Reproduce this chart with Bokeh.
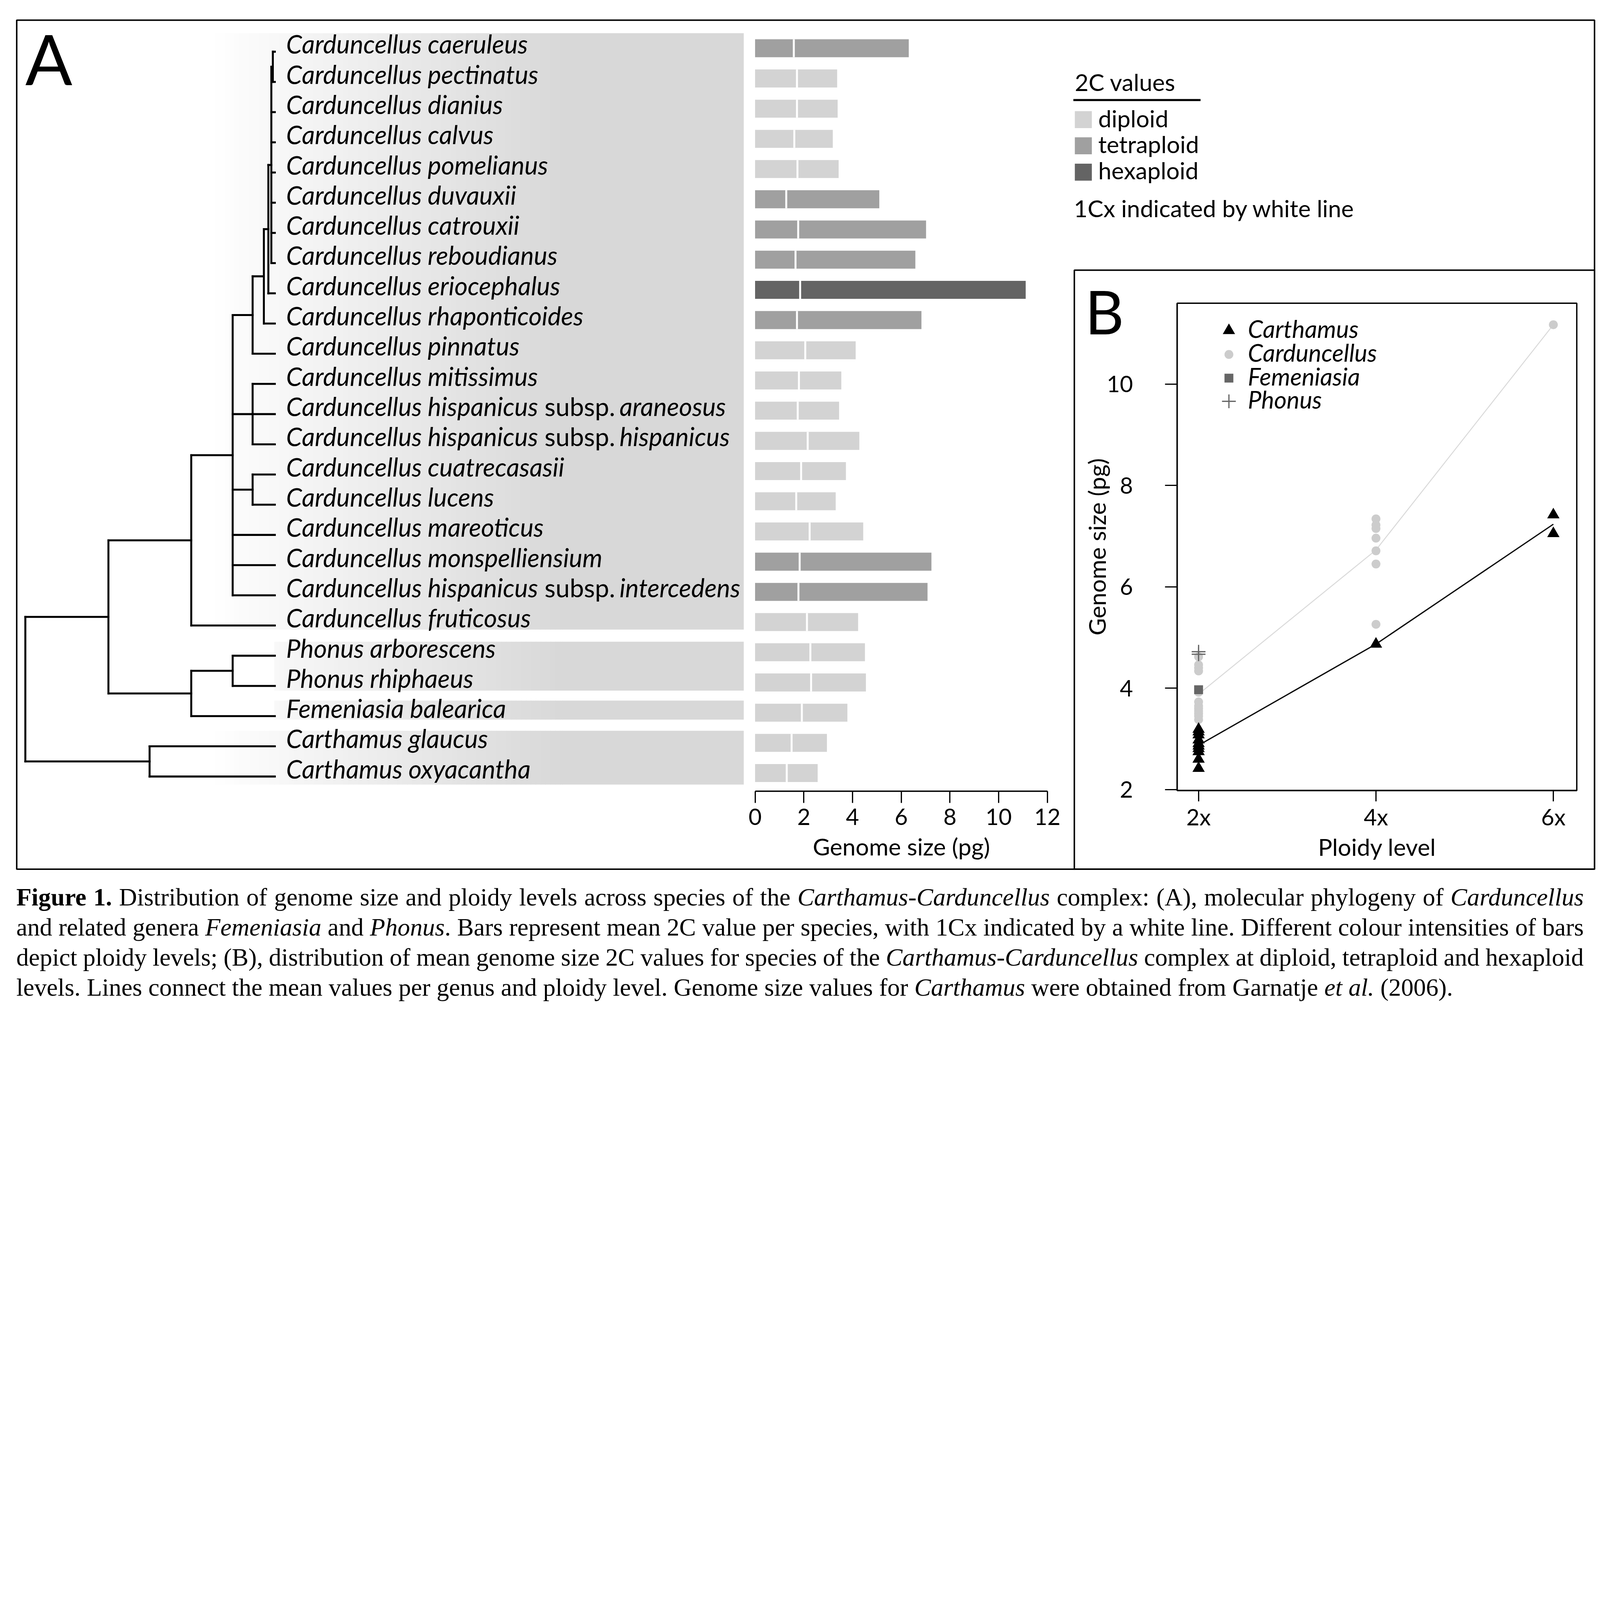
from bokeh.plotting import figure
from bokeh.models import Range1d, LinearAxis, FixedTicker, Div
from bokeh.layouts import column
from bokeh.core.properties import value
from bokeh.embed import file_html
from bokeh.resources import INLINE

# ---------------------------------------------------------------- data (panel A)
label_main = [
    "Carduncellus caeruleus", "Carduncellus pectinatus", "Carduncellus dianius",
    "Carduncellus calvus", "Carduncellus pomelianus", "Carduncellus duvauxii",
    "Carduncellus catrouxii", "Carduncellus reboudianus", "Carduncellus eriocephalus",
    "Carduncellus rhaponticoides", "Carduncellus pinnatus", "Carduncellus mitissimus",
    "Carduncellus hispanicus", "Carduncellus hispanicus", "Carduncellus cuatrecasasii",
    "Carduncellus lucens", "Carduncellus mareoticus", "Carduncellus monspelliensium",
    "Carduncellus hispanicus", "Carduncellus fruticosus", "Phonus arborescens",
    "Phonus rhiphaeus", "Femeniasia balearica", "Carthamus glaucus", "Carthamus oxyacantha",
]
label_subsp = ["", "", "", "", "", "", "", "", "", "", "", "",
               "araneosus", "hispanicus", "", "", "", "", "intercedens",
               "", "", "", "", "", ""]
ploidy_level = ["tetraploid", "diploid", "diploid", "diploid", "diploid", "tetraploid",
                "tetraploid", "tetraploid", "hexaploid", "tetraploid", "diploid", "diploid",
                "diploid", "diploid", "diploid", "diploid", "diploid", "tetraploid",
                "tetraploid", "diploid", "diploid", "diploid", "diploid", "diploid", "diploid"]
genome_2c = [6.31, 3.37, 3.39, 3.19, 3.43, 5.10, 7.02, 6.58, 11.11, 6.83, 4.13, 3.54,
             3.45, 4.28, 3.73, 3.31, 4.44, 7.24, 7.08, 4.23, 4.51, 4.55, 3.79, 2.95, 2.57]
genome_1cx = [1.59, 1.72, 1.72, 1.61, 1.74, 1.28, 1.77, 1.66, 1.85, 1.72, 2.06, 1.80,
              1.75, 2.16, 1.89, 1.69, 2.24, 1.83, 1.78, 2.13, 2.27, 2.30, 1.92, 1.50, 1.30]
bar_ticks = [0, 2, 4, 6, 8, 10, 12]

# phylogeny: (node depth, children); leaves are row indices; depth 0 = root, 1 = tips
tree = (0.0, [
    (0.333, [
        (0.665, [
            (0.831, [
                (0.911, [
                    (0.956, [
                        (0.974, [
                            (0.986, [(0.992, [0, 1]), 2, 3, 4, 5, 6, 7]),
                            8]),
                        9]),
                    10]),
                (0.911, [11, 12, 13]),
                (0.911, [14, 15]),
                16, 17, 18]),
            19]),
        (0.665, [(0.831, [20, 21]), 22]),
    ]),
    (0.498, [23, 24]),
])

# ---------------------------------------------------------------- data (panel B)
carthamus_ploidy = [2, 2, 2, 2, 2, 2, 2, 2, 2, 2, 4, 6, 6]
carthamus_gs = [3.19, 3.14, 3.08, 2.98, 2.91, 2.86, 2.81, 2.75, 2.60, 2.42, 4.87, 7.42, 7.05]
carduncellus_ploidy = [2, 2, 2, 2, 2, 2, 2, 2, 2, 2, 2, 2, 4, 4, 4, 4, 4, 4, 4, 6]
carduncellus_gs = [4.62, 4.46, 4.40, 4.34, 3.92, 3.73, 3.65, 3.60, 3.55, 3.50, 3.45, 3.38,
                   7.34, 7.22, 7.15, 6.96, 6.71, 6.45, 5.26, 11.17]
femeniasia_ploidy = [2]
femeniasia_gs = [3.97]
phonus_ploidy = [2, 2]
phonus_gs = [4.72, 4.67]
ploidy_ticks = [2, 4, 6]
ploidy_labels = {2: "2x", 4: "4x", 6: "6x"}
gs_ticks = [2, 4, 6, 8, 10]

# ---------------------------------------------------------------- layout
# coordinates below are given in reference-image pixels; the page is rendered
# in a 4096 css-px wide viewport, so screen sizes are scaled by S
S = 4096 / 6490
W_CSS, H_CSS = 4090, 2258
XL, XR = 0, W_CSS / S
YT, YB = 0, H_CSS / S


def z(v):
    return v * S


def fs(v):
    return "%.2fpx" % (v * S)


SANS = "Lato"
COL = {"diploid": "#d3d3d3", "tetraploid": "#a0a0a0", "hexaploid": "#646464"}
MID = 0.387  # baseline offset (em) when text is anchored at 'middle'


def mapped_range(p0, v0, p1, v1, lo, hi):
    k = (v1 - v0) / (p1 - p0)
    return Range1d(start=v0 + (lo - p0) * k, end=v0 + (hi - p0) * k)


p = figure(width=W_CSS, height=H_CSS, x_range=Range1d(XL, XR), y_range=Range1d(YB, YT),
           output_backend="svg", toolbar_location=None,
           x_axis_location=None, y_axis_location=None, min_border=0)
p.outline_line_color = None
p.background_fill_color = "white"
p.border_fill_color = "white"
p.grid.grid_line_color = None
p.grid.visible = False

ROW0, ROWSTEP = 195.0, 122.5
p.extra_y_ranges = {
    "row": mapped_range(ROW0, 0, ROW0 + ROWSTEP, 1, YB, YT),
    "gsize": mapped_range(3202, 2, 1557, 10, YB, YT),
}
p.extra_x_ranges = {
    "gx": mapped_range(3062, 0, 3062 + 98.8 * 12, 12, XL, XR),
    "depth": mapped_range(102, 0, 1114, 1, XL, XR),
    "ploidy": mapped_range(4861, 2, 6300, 6, XL, XR),
}

rows = list(range(len(label_main)))

# ---- label background boxes with horizontal white->grey gradient
GX0, GX1, GEND, BOX_R = 850, 2280, 216, 3016
boxes = [(850, -0.5, 19.25), (1112, 19.65, 21.27), (1112, 21.6, 22.23), (571, 22.6, 24.38)]
ql, qr, qt, qb, qc = [], [], [], [], []
for xl, rt, rb in boxes:
    x = xl
    step = 20
    while x < GX1:
        xm = min(x + step, GX1)
        c = (x + xm) / 2
        g = 255 if c <= GX0 else 255 + (GEND - 255) * (c - GX0) / (GX1 - GX0)
        g = int(round(g))
        ql.append(x); qr.append(xm + 2); qt.append(rt); qb.append(rb)
        qc.append("#%02x%02x%02x" % (g, g, g))
        x = xm
    ql.append(GX1); qr.append(BOX_R); qt.append(rt); qb.append(rb)
    qc.append("#%02x%02x%02x" % (GEND, GEND, GEND))
p.quad(left=ql, right=qr, top=qt, bottom=qb, fill_color=qc, line_color=None,
       y_range_name="row")

# ---- phylogeny
TIP_DY = 0.114
hx0, hx1, hy = [], [], []
vx, vy0, vy1 = [], [], []


def layout_node(node):
    if isinstance(node, int):
        return 1.0, node + TIP_DY
    d, kids = node
    pos = [layout_node(k) for k in kids]
    for kd, ky in pos:
        hx0.append(d); hx1.append(kd); hy.append(ky)
    vx.append(d); vy0.append(pos[0][1]); vy1.append(pos[-1][1])
    return d, (pos[0][1] + pos[-1][1]) / 2


layout_node(tree)
p.segment(x0=hx0, x1=hx1, y0=hy, y1=hy, line_width=z(8), line_color="black",
          line_cap="square", x_range_name="depth", y_range_name="row")
p.segment(x0=vx, x1=vx, y0=vy0, y1=vy1, line_width=z(8), line_color="black",
          line_cap="square", x_range_name="depth", y_range_name="row")

# ---- species labels
LBL_FS = 103
LBL_DY = (22 - MID * LBL_FS) / ROWSTEP
p.text(x=[1160] * len(rows), y=[r + LBL_DY for r in rows], text=label_main,
       text_font=value(SANS), text_font_style="italic", text_font_size=fs(LBL_FS),
       text_baseline="middle", text_align="left", y_range_name="row")
sub_rows = [r for r in rows if label_subsp[r]]
p.text(x=[2208] * len(sub_rows), y=[r + LBL_DY for r in sub_rows],
       text=["subsp."] * len(sub_rows), text_font=value(SANS), text_font_size=fs(LBL_FS),
       text_baseline="middle", text_align="left", y_range_name="row")
p.text(x=[2512] * len(sub_rows), y=[r + LBL_DY for r in sub_rows],
       text=[label_subsp[r] for r in sub_rows], text_font=value(SANS),
       text_font_style="italic", text_font_size=fs(LBL_FS),
       text_baseline="middle", text_align="left", y_range_name="row")

# ---- bars
BAR_H = 0.596
p.hbar(y=rows, left=0, right=genome_2c, height=BAR_H,
       fill_color=[COL[k] for k in ploidy_level], line_color=None,
       x_range_name="gx", y_range_name="row")
p.segment(x0=genome_1cx, x1=genome_1cx, y0=[r - BAR_H / 2 for r in rows],
          y1=[r + BAR_H / 2 for r in rows], line_color="white", line_width=z(8),
          x_range_name="gx", y_range_name="row")

ax = LinearAxis(x_range_name="gx", fixed_location=3209, ticker=FixedTicker(ticks=bar_ticks),
                bounds=(0, 12), axis_label="Genome size (pg)")
p.add_layout(ax, "below")

# ---- legend of panel A
p.line(x=[4353, 4869], y=[405, 405], line_width=z(8), line_color="black")
leg_names = ["diploid", "tetraploid", "hexaploid"]
leg_top = [450, 556, 663]
p.quad(left=[4359] * 3, right=[4428] * 3, top=leg_top, bottom=[t + 69 for t in leg_top],
       fill_color=[COL[k] for k in leg_names], line_color=None)
LEG_FS = 96
p.text(x=[4359, 4454, 4454, 4454, 4355],
       y=[b - MID * LEG_FS for b in [368, 516, 621, 726, 880]],
       text=["2C values"] + leg_names + ["1Cx indicated by white line"],
       text_font=value(SANS), text_font_size=fs(LEG_FS), text_baseline="middle")

# ---- panel letters
p.text(x=[102], y=[345 - MID * 282], text=["A"], text_font=value(SANS),
       text_font_size=fs(282), text_baseline="middle")
p.text(x=[4400], y=[1355 - MID * 245], text=["B"], text_font=value(SANS),
       text_font_size=fs(245), text_baseline="middle")

# ---- frames
p.quad(left=[67, 4357], right=[6467, 6467], top=[81, 1095], bottom=[3525, 3525],
       fill_color=None, line_color="black", line_width=z(6))
p.quad(left=[4774], right=[6395], top=[1229], bottom=[3206], fill_color=None,
       line_color="black", line_width=z(5.5))


# ---- panel B
def mean_by(xs, ys):
    out = {}
    for x, y in zip(xs, ys):
        out.setdefault(x, []).append(y)
    ks = sorted(out)
    return ks, [sum(out[k]) / len(out[k]) for k in ks]


cx, cy = mean_by(carduncellus_ploidy, carduncellus_gs)
tx, ty = mean_by(carthamus_ploidy, carthamus_gs)
p.line(cx, cy, line_color="#dadada", line_width=z(4), x_range_name="ploidy", y_range_name="gsize")
p.line(tx, ty, line_color="black", line_width=z(5), x_range_name="ploidy", y_range_name="gsize")
p.scatter(carduncellus_ploidy, carduncellus_gs, marker="circle", size=z(36), fill_color="#cccccc",
          line_color=None, x_range_name="ploidy", y_range_name="gsize")
p.scatter(femeniasia_ploidy, femeniasia_gs, marker="square", size=z(36), fill_color="#666666",
          line_color=None, x_range_name="ploidy", y_range_name="gsize")
p.scatter(phonus_ploidy, phonus_gs, marker="cross", size=z(56), line_color="#666666",
          line_width=z(5), x_range_name="ploidy", y_range_name="gsize")
p.scatter(carthamus_ploidy, carthamus_gs, marker="triangle", size=z(50), fill_color="black",
          line_color=None, x_range_name="ploidy", y_range_name="gsize")

# legend of panel B
lg_y = [1340, 1437, 1533, 1627]
p.scatter([4984], [lg_y[0]], marker="triangle", size=z(50), fill_color="black", line_color=None)
p.scatter([4984], [lg_y[1]], marker="circle", size=z(36), fill_color="#cccccc", line_color=None)
p.scatter([4984], [lg_y[2]], marker="square", size=z(36), fill_color="#666666", line_color=None)
p.scatter([4984], [lg_y[3]], marker="cross", size=z(56), line_color="#666666", line_width=z(5))
p.text(x=[5061] * 4, y=[v - 8 for v in lg_y],
       text=["Carthamus", "Carduncellus", "Femeniasia", "Phonus"],
       text_font=value(SANS), text_font_style="italic", text_font_size=fs(98),
       text_baseline="middle")

bx = LinearAxis(x_range_name="ploidy", fixed_location=3206, ticker=FixedTicker(ticks=ploidy_ticks),
                major_label_overrides=ploidy_labels, bounds=(1.761, 6.264),
                axis_label="Ploidy level")
p.add_layout(bx, "below")
by = LinearAxis(y_range_name="gsize", fixed_location=4774, ticker=FixedTicker(ticks=gs_ticks),
                bounds=(1.98, 11.596), axis_label="Genome size (pg)")
p.add_layout(by, "left")

for a in (ax, bx, by):
    a.axis_line_color = "black"
    a.axis_line_width = z(5.5)
    a.major_tick_line_width = z(5)
    a.major_tick_in = 0
    a.minor_tick_out = 0
    a.minor_tick_in = 0
    a.major_label_text_font = SANS
    a.major_label_text_font_size = fs(92)
    a.major_label_text_color = "black"
    a.axis_label_text_font = SANS
    a.axis_label_text_font_size = fs(96)
    a.axis_label_text_font_style = "normal"
    a.axis_label_text_color = "black"
ax.major_tick_out = round(z(48))
ax.major_label_standoff = round(z(22))
ax.axis_label_standoff = round(z(24))
bx.major_tick_out = round(z(44))
bx.major_label_standoff = round(z(6))
bx.axis_label_standoff = round(z(4))
by.major_tick_out = round(z(49))
by.major_label_standoff = round(z(130))
by.axis_label_standoff = round(z(-22))

# ---------------------------------------------------------------- caption
cap_lines = [
    "<b>Figure</b> <b>1.</b> Distribution of genome size and ploidy levels across species of the "
    "<i>Carthamus</i>-<i>Carduncellus</i> complex: (A), molecular phylogeny of <i>Carduncellus</i>",
    "and related genera <i>Femeniasia</i> and <i>Phonus</i>. Bars represent mean 2C value per "
    "species, with 1Cx indicated by a white line. Different colour intensities of bars",
    "depict ploidy levels; (B), distribution of mean genome size 2C values for species of the "
    "<i>Carthamus</i>-<i>Carduncellus</i> complex at diploid, tetraploid and hexaploid",
    "levels. Lines connect the mean values per genus and ploidy level. Genome size values for "
    "<i>Carthamus</i> were obtained from Garnatje <i>et</i> <i>al.</i> (2006).",
]
parts = []
for i, t in enumerate(cap_lines):
    if i < len(cap_lines) - 1:
        parts.append('<div style="display:flex;justify-content:space-between;white-space:nowrap;">'
                     + "".join("<span>%s</span>" % w for w in t.split(" ")) + "</div>")
    else:
        parts.append('<div style="white-space:nowrap;">%s</div>' % t)
html = ('<div style="margin-left:%.1fpx;width:%.1fpx;font-family:\'Liberation Serif\';'
        'font-size:%s;line-height:%.2fpx;color:black;">' % (z(66), z(6358), fs(101), z(122))
        + "".join(parts) + '</div>')
cap = Div(text=html, width=W_CSS, height=320, margin=(0, 0, 0, 0))

layout = column(p, cap, spacing=0)
open("out.html", "w").write(file_html(layout, INLINE))
